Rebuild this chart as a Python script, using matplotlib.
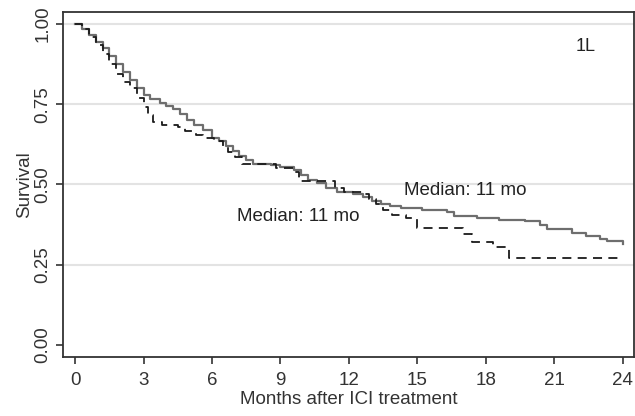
import matplotlib
matplotlib.use("Agg")
import matplotlib.pyplot as plt

plt.rcParams['font.family'] = ['Liberation Sans Narrow', 'Liberation Sans', 'DejaVu Sans']

# Kaplan-Meier steps
solid_t = [0, 0.3, 0.6, 0.9, 1.2, 1.5, 1.8, 2.1, 2.4, 2.7, 3.0, 3.3, 3.7, 4.0, 4.3,
           4.6, 4.9, 5.2, 5.6, 6.0, 6.3, 6.6, 6.9, 7.2, 7.5, 7.8, 8.6, 9.0, 9.6,
           9.9, 10.2, 10.6, 11.0, 11.5, 12.2, 12.6, 13.0, 13.4, 13.8, 14.3, 15.2,
           16.3, 16.6, 17.6, 18.6, 19.7, 20.4, 20.7, 21.8, 22.4, 23.0, 23.3, 24.0]
solid_s = [1.0, 0.985, 0.965, 0.945, 0.925, 0.90, 0.875, 0.85, 0.825, 0.80, 0.78,
           0.765, 0.755, 0.745, 0.735, 0.72, 0.70, 0.685, 0.67, 0.645, 0.635, 0.62,
           0.605, 0.59, 0.575, 0.565, 0.56, 0.555, 0.545, 0.53, 0.515, 0.505, 0.49,
           0.478, 0.47, 0.46, 0.45, 0.44, 0.432, 0.426, 0.42, 0.414, 0.402, 0.395,
           0.39, 0.385, 0.375, 0.362, 0.35, 0.34, 0.33, 0.325, 0.315]

dash_t = [0, 0.3, 0.6, 0.9, 1.2, 1.5, 1.8, 2.1, 2.4, 2.7, 3.0, 3.2, 3.4, 3.8, 4.5,
          4.8, 5.3, 5.6, 6.1, 6.5, 6.7, 7.0, 7.3, 8.8, 9.6, 9.8, 11.4, 11.8, 12.6,
          12.9, 13.2, 13.5, 13.9, 14.5, 15.0, 17.0, 17.4, 18.3, 19.0, 24.0]
dash_s = [1.0, 0.985, 0.96, 0.935, 0.905, 0.875, 0.845, 0.82, 0.80, 0.77, 0.74,
          0.715, 0.695, 0.685, 0.68, 0.665, 0.655, 0.645, 0.635, 0.62, 0.60, 0.585,
          0.565, 0.55, 0.54, 0.51, 0.49, 0.478, 0.47, 0.455, 0.44, 0.42, 0.405,
          0.395, 0.365, 0.345, 0.322, 0.305, 0.27, 0.27]

x_ticks = [0, 3, 6, 9, 12, 15, 18, 21, 24]
y_ticks = [0.0, 0.25, 0.5, 0.75, 1.0]
y_labels = ["0.00", "0.25", "0.50", "0.75", "1.00"]

fig = plt.figure(figsize=(6.35, 4.16), dpi=100)
ax = fig.add_axes([0.0987, 0.1418, 0.8997, 0.8294])

for y in y_ticks[1:]:
    ax.axhline(y, color='#e3e3e3', lw=1.5, zorder=0)

ax.step(solid_t, solid_s, where='post', color='#6e6e6e', lw=1.6)
ax.step(dash_t, dash_s, where='post', color='#1a1a1a', lw=1.3, dashes=(5, 3.5))

note_font = ['Liberation Sans', 'DejaVu Sans']
ax.text(22.4, 0.93, "1L", fontsize=13, color='#222222', ha='center', va='center',
        family=note_font)
ax.text(14.4, 0.48, "Median: 11 mo", fontsize=13.5, color='#222222', va='center',
        family=note_font)
ax.text(7.1, 0.40, "Median: 11 mo", fontsize=13.5, color='#222222', va='center',
        family=note_font)

ax.set_xlim(-0.55, 24.5)
ax.set_ylim(-0.037, 1.037)
ax.set_xticks(x_ticks)
ax.set_yticks(y_ticks)
ax.set_yticklabels(y_labels, rotation=90, va='center')
ax.tick_params(axis='both', labelsize=13.5, colors='#333333', length=5, width=1.2)
ax.tick_params(axis='y', pad=3)
ax.tick_params(axis='x', pad=6)
for sp in ax.spines.values():
    sp.set_color('#333333')
    sp.set_linewidth(1.3)

ax.set_xlabel("Months after ICI treatment", fontsize=13.5, color='#333333')
ax.xaxis.set_label_coords(0.5, -0.098)
ax.set_ylabel("Survival", fontsize=13.5, color='#333333', labelpad=1)

fig.savefig("out.png", dpi=100)
